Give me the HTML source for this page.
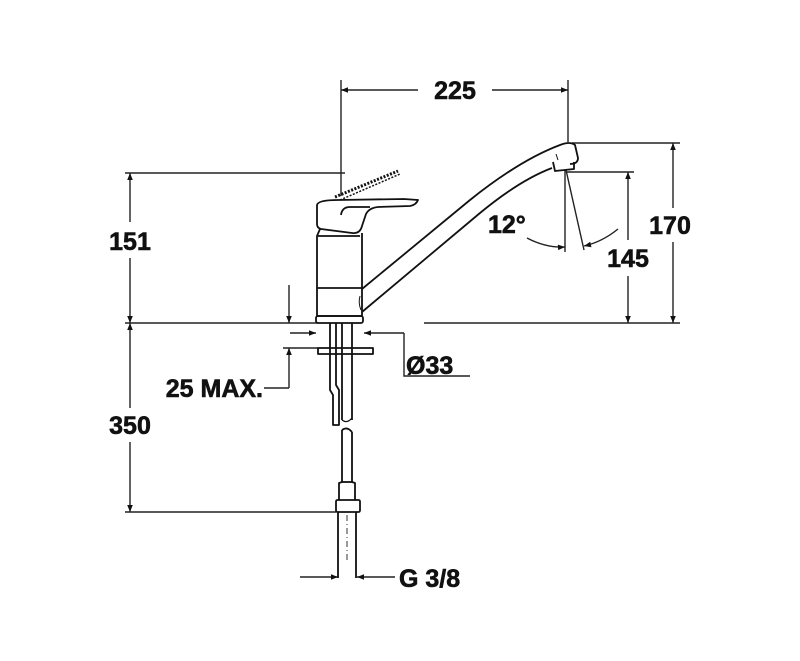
<!DOCTYPE html>
<html><head><style>
html,body{margin:0;padding:0;background:#fff;}
svg{display:block;}
text{font-family:"Liberation Sans",Arial,sans-serif;font-weight:bold;fill:#111;}
</style></head><body>
<svg width="800" height="661" viewBox="0 0 800 661" xmlns="http://www.w3.org/2000/svg">
<defs>
<marker id="a" viewBox="0 0 10 10" refX="10" refY="5" markerWidth="16" markerHeight="7" markerUnits="userSpaceOnUse" orient="auto-start-reverse"><path d="M0,1 L10,5 L0,9 Z" fill="#111"/></marker>
</defs>
<g stroke="#222" stroke-width="1.4" fill="none">
<line x1="341" y1="80" x2="341" y2="196"/>
<line x1="568" y1="80" x2="568" y2="142"/>
<line x1="341" y1="90" x2="418" y2="90" marker-start="url(#a)"/>
<line x1="492" y1="90" x2="568" y2="90" marker-end="url(#a)"/>
<line x1="125" y1="173" x2="345" y2="173"/>
<line x1="130" y1="173" x2="130" y2="222" marker-start="url(#a)"/>
<line x1="130" y1="258" x2="130" y2="323" marker-end="url(#a)"/>
<line x1="125" y1="323" x2="318" y2="323"/>
<line x1="424" y1="323" x2="680" y2="323"/>
<line x1="130" y1="323" x2="130" y2="408" marker-start="url(#a)"/>
<line x1="130" y1="442" x2="130" y2="512" marker-end="url(#a)"/>
<line x1="125" y1="512" x2="336" y2="512"/>
<line x1="572" y1="143" x2="680" y2="143"/>
<line x1="673" y1="143" x2="673" y2="208" marker-start="url(#a)"/>
<line x1="673" y1="242" x2="673" y2="323" marker-end="url(#a)"/>
<line x1="566" y1="172" x2="634" y2="172"/>
<line x1="628" y1="172" x2="628" y2="240" marker-start="url(#a)"/>
<line x1="628" y1="276" x2="628" y2="323" marker-end="url(#a)"/>
<line x1="565" y1="170" x2="565" y2="252"/>
<line x1="566" y1="170" x2="584" y2="250"/>
<path d="M527,238 Q546,248 565,247" marker-end="url(#a)"/>
<path d="M618,229 Q602,242 584,246" marker-end="url(#a)"/>
<line x1="289" y1="285" x2="289" y2="323" marker-end="url(#a)"/>
<line x1="289" y1="348" x2="289" y2="388" marker-start="url(#a)"/>
<line x1="283" y1="348" x2="318" y2="348"/>
<line x1="264" y1="388" x2="289" y2="388"/>
<line x1="290" y1="333" x2="316" y2="333" marker-end="url(#a)"/>
<line x1="404" y1="333" x2="364" y2="333" marker-end="url(#a)"/>
<polyline points="404,333 404,376 470,376"/>
<line x1="300" y1="577" x2="338" y2="577" marker-end="url(#a)"/>
<line x1="395" y1="577" x2="357" y2="577" marker-end="url(#a)"/>
</g>
<g stroke="#111" stroke-width="1.8" fill="none" stroke-linejoin="round">
<path d="M317,205 L317,224 Q317,228 321,229 L352,233 Q360,234 362,226 L366,214 Q369,208 378,207 L410,206 Q416,205 418,200 L404,199 L338,200 Q318,200 317,205 Z"/>
<path d="M341,215 Q342,207 350,207 L370,207"/>
<path d="M335,197 L398,171" stroke-dasharray="2,1.5" stroke-width="3"/>
<path d="M340,200 L400,174" stroke-dasharray="2,1.5" stroke-width="1.5"/>
<path d="M320,229 L317,236 L317,316 L362,316 L362,233"/>
<line x1="318" y1="236" x2="360" y2="236"/>
<line x1="317" y1="288" x2="362" y2="288"/>
<path d="M360,296 Q358,303 361,310" stroke-width="1"/>
<rect x="316" y="316" width="47" height="7" rx="2"/>
<path d="M362,289 L470,200 Q520,160 560,145 Q570,141 575,145 L578,158 Q578,164 570,164"/>
<path d="M362,312 L480,213 Q520,180 552,168"/>
<path d="M553,162 L555,171 L574,169 L574,162"/>
<line x1="558" y1="160" x2="556" y2="154" stroke-width="1"/>
<path d="M330,323 L330,390 L333,395 L333,425 L339,425 L339,390 L336,385 L336,323"/>
<path d="M342,323 L342,420 M352,323 L352,420"/>
<path d="M342,420 Q347,424 352,418" stroke-width="1.2"/>
<rect x="318" y="348" width="55" height="6"/>
<path d="M342,430 Q347,426 352,432"/>
<path d="M342,430 L342,482 L339,483 L339,500 M352,432 L352,482 L355,483 L355,500"/>
<line x1="342" y1="482" x2="352" y2="482"/>
<rect x="336" y="500" width="24" height="12" rx="1.5"/>
<path d="M338,512 L338,578 M356,512 L356,578"/>
</g>
<line x1="347" y1="515" x2="347" y2="560" stroke="#333" stroke-width="1" stroke-dasharray="6,3,1,3"/>
<g stroke="#111" stroke-width="0.6">
<text x="455" y="99" font-size="25" text-anchor="middle">225</text>
<text x="130" y="250" font-size="25" text-anchor="middle">151</text>
<text x="130" y="434" font-size="25" text-anchor="middle">350</text>
<text x="670" y="234" font-size="25" text-anchor="middle">170</text>
<text x="628" y="267" font-size="25" text-anchor="middle">145</text>
<text x="488" y="233" font-size="25">12°</text>
<text x="263" y="397" font-size="25" text-anchor="end">25 MAX.</text>
<text x="406" y="374" font-size="25">Ø33</text>
<text x="399" y="587" font-size="25">G 3/8</text>
</g>
</svg>
</body></html>
